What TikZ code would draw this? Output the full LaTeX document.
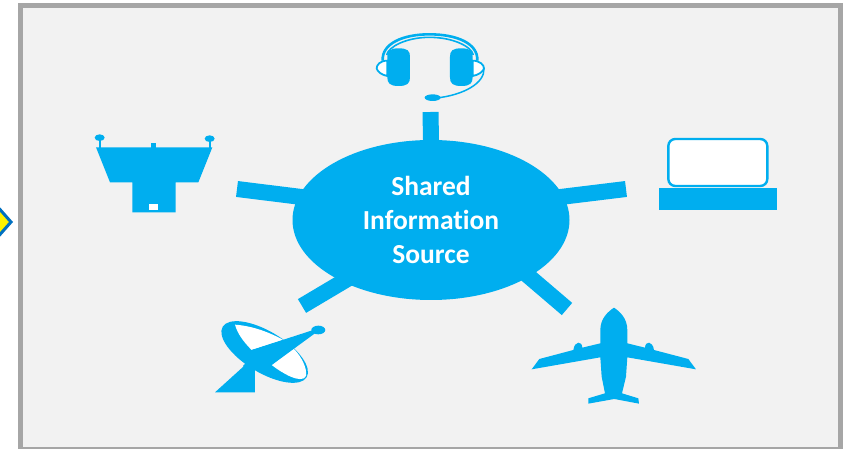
\documentclass[tikz,border=0pt]{standalone}
\usepackage{fontspec}
\setmainfont[Ligatures=NoCommon]{Carlito}
\usetikzlibrary{shapes.geometric}
\definecolor{cy}{HTML}{00AEEF}
\definecolor{panel}{HTML}{F2F2F2}
\definecolor{frm}{HTML}{A6A6A6}
\tikzset{
  spoke/.style={draw=cy,line width=16pt,shorten <=-8pt},
  hubnode/.style={ellipse,fill=cy,minimum width=277pt,minimum height=160pt,inner sep=0pt,align=center,text=white,font=\bfseries\fontsize{27.5}{34}\selectfont},
  zoomed/.style={x=0.3333pt,y=-0.3333pt}
}
\begin{document}
\begin{tikzpicture}[x=1pt,y=-1pt]
\useasboundingbox (0,0) rectangle (844,449);
\fill[white] (0,0) rectangle (844,449);
% arrow tip at left
\draw[draw={rgb,255:red,0;green,112;blue,192},fill=yellow,line width=3pt,miter limit=10] (-4,205) -- (11,222) -- (-4,239);
% panel
\draw[draw=frm,fill=panel,line width=5pt] (20,6) rectangle (840.5,449.5);
% hub
\node[hubnode] (hub) at (431,220) {Shared\\Information\\Source};
% connector ends
\coordinate (endT) at (430.5,112);
\coordinate (endL) at (237,189);
\coordinate (endR) at (626,189);
\coordinate (endDL) at (302,306);
\coordinate (endDR) at (567,309);
\draw[spoke] (hub.90) -- (endT);
\draw[spoke] (hub.170) -- (endL);
\draw[spoke] (hub.10) -- (endR);
\draw[spoke] (hub.215.5) -- (endDL);
\draw[spoke] (hub.-30) -- (endDR);
% headset
\begin{scope}[shift={(340,20)},zoomed]
  \draw[cy,fill=white,line width=1.8pt] (142,122) .. controls (120,122) and (110,135) .. (110,145) .. controls (112,155) and (125,165) .. (142,168) -- cycle;
  \draw[cy,fill=white,line width=1.8pt] (398,122) .. controls (420,122) and (432,135) .. (432,145) .. controls (430,155) and (415,165) .. (398,168) -- cycle;
  \fill[cy] (142,110) .. controls (142,92) and (150,85) .. (176,85) .. controls (202,85) and (210,92) .. (210,110) -- (210,172) .. controls (210,190) and (202,198) .. (176,198) .. controls (150,198) and (142,190) .. (142,172) -- cycle;
  \fill[cy] (330,110) .. controls (330,92) and (338,85) .. (364,85) .. controls (390,85) and (398,92) .. (398,110) -- (398,172) .. controls (398,190) and (390,198) .. (364,198) .. controls (338,198) and (330,190) .. (330,172) -- cycle;
  \draw[cy,line width=2.6pt] (128,122) .. controls (125,70) and (190,43) .. (268,43) .. controls (350,43) and (415,70) .. (412,122);
  \draw[cy,line width=1.6pt] (140,105) .. controls (145,80) and (200,52) .. (268,52) .. controls (340,52) and (395,80) .. (400,105);
  \draw[cy,line width=1.5pt] (432,145) .. controls (435,190) and (370,225) .. (290,234);
  \fill[cy] (278,233) ellipse [x radius=24,y radius=10];
\end{scope}
% tower
\begin{scope}[shift={(70,120)},zoomed]
  \fill[cy] (78,82) -- (427,82) -- (385,187) -- (317,187) -- (317,277) -- (187,277) -- (187,187) -- (120,187) -- cycle;
  \fill[cy] (244,84) rectangle (258,69);
  \fill[cy] (86,84) rectangle (92,60);
  \fill[cy] (416,84) rectangle (422,60);
  \fill[cy] (89,53) ellipse [x radius=15,y radius=10];
  \fill[cy] (419,56) ellipse [x radius=15,y radius=10];
  \fill[white] (236,253) rectangle (265,271);
\end{scope}
% laptop
\begin{scope}[shift={(640,125)},zoomed]
  \draw[cy,fill=white,line width=2.4pt,rounded corners=7pt] (85,42) rectangle (382,183);
  \fill[cy] (57,189) rectangle (412,256);
\end{scope}
% dish
\begin{scope}[shift={(200,310)},zoomed]
  \fill[cy,rotate around={-31:(194,126)}] (194,126) ellipse [x radius=147,y radius=62];
  \fill[white] (105,44) .. controls (160,48) and (210,68) .. (250,90) -- (155,120) .. controls (130,95) and (112,70) .. (105,44) -- cycle;
  \fill[white] (280,115) .. controls (305,140) and (322,175) .. (318,198) .. controls (312,212) and (290,208) .. (272,200) .. controls (250,190) and (232,178) .. (215,165) -- cycle;
  \fill[cy] (45,247) -- (165,247) -- (165,165) -- (130,165) -- (130,170) -- cycle;
  \fill[cy] (155,120) -- (340,60) -- (345,70) -- (215,165) -- (130,170) -- cycle;
  \fill[cy] (355,60) ellipse [x radius=21,y radius=13];
\end{scope}
% plane
\begin{scope}[shift={(520,300)},zoomed]
  \fill[cy] (282,23) .. controls (300,35) and (322,55) .. (322,90) -- (322,130) -- (375,143) .. controls (376,122) and (398,122) .. (402,150) -- (505,177) -- (528,208) -- (322,172) -- (318,230) -- (306,280) -- (355,295) -- (357,311) -- (283,297) -- (205,311) -- (205,295) -- (255,280) -- (245,230) -- (241,172) -- (35,208) -- (58,177) -- (160,150) .. controls (164,122) and (186,122) .. (187,143) -- (241,130) -- (241,90) .. controls (241,55) and (264,35) .. (282,23) -- cycle;
\end{scope}
\end{tikzpicture}
\end{document}
